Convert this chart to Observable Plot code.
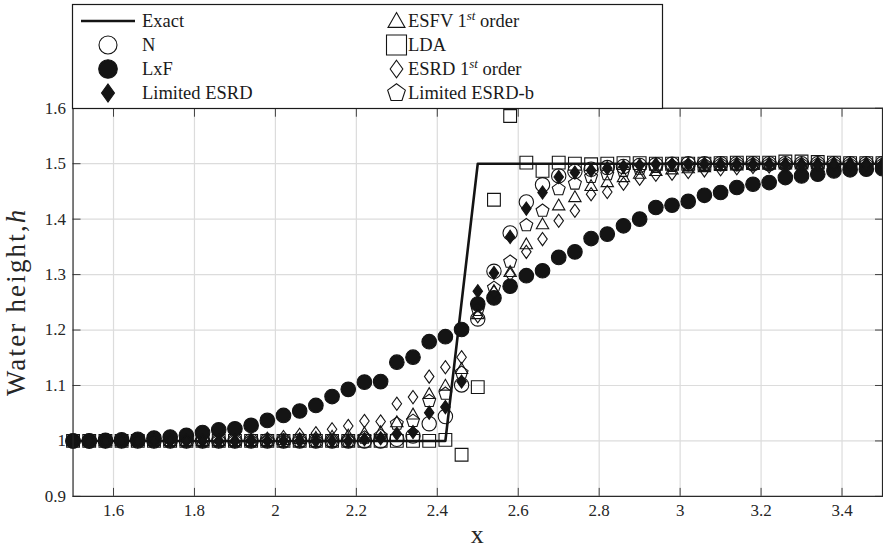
<!DOCTYPE html>
<html><head><meta charset="utf-8">
<script src="https://cdn.jsdelivr.net/npm/d3@7"></script>
<script src="https://cdn.jsdelivr.net/npm/@observablehq/plot@0.6"></script>
<style>
html,body{margin:0;padding:0;background:#fff;overflow:hidden;}
#wrap{position:relative;width:883px;height:550px;overflow:hidden;font-family:"Liberation Serif",serif;}
#wrap text{font-family:"Liberation Serif",serif;}
#legend{position:absolute;left:0;top:0;}
</style></head><body><div id="wrap"></div>
<script>
// ---- data ----
const xs = [1.50,1.54,1.58,1.62,1.66,1.70,1.74,1.78,1.82,1.86,1.90,1.94,1.98,2.02,2.06,2.10,2.14,2.18,2.22,2.26,
            2.30,2.34,2.38,2.42,2.46,2.50,2.54,2.58,2.62,2.66,2.70,2.74,2.78,2.82,2.86,2.90,2.94,2.98,3.02,3.06,
            3.10,3.14,3.18,3.22,3.26,3.30,3.34,3.38,3.42,3.46,3.50];
const exactX = [1.5, 2.42, 2.5, 3.5];
const exactH = [1.0, 1.0, 1.5, 1.5];
const hN = [1,1,1,1,1,1,1,1,1,1,1,1,1,1,1,1,1,1,1,1,
  1.003,1.009,1.031,1.044,1.101,1.220,1.306,1.375,1.431,1.462,1.478,1.486,1.490,1.493,1.495,1.497,1.498,1.499,1.500,1.500,
  1.500,1.500,1.500,1.500,1.500,1.500,1.500,1.500,1.500,1.500,1.500];
const hLxF = [1.000,1.000,1.001,1.002,1.003,1.005,1.007,1.010,1.015,1.020,1.022,1.028,1.037,1.046,1.054,1.064,1.080,1.093,1.106,1.107,
  1.142,1.151,1.179,1.188,1.201,1.247,1.258,1.279,1.298,1.307,1.331,1.341,1.365,1.373,1.388,1.400,1.421,1.425,1.432,1.443,
  1.448,1.457,1.463,1.466,1.475,1.478,1.481,1.487,1.489,1.490,1.491];
const hLimESRD = [1,1,1,1,1,1,1,1,1,1,1,1,1,1,1,1,1,1,1.003,1.005,
  1.013,1.016,1.051,1.061,1.107,1.270,1.303,1.368,1.419,1.448,1.476,1.484,1.488,1.492,1.495,1.497,1.499,1.499,1.499,1.499,
  1.499,1.499,1.499,1.499,1.499,1.499,1.499,1.499,1.499,1.499,1.499];
const hESFV = [1,1,1,1,1,1,1,1,1,1,1,1,1,1.002,1.004,1.006,1.008,1.010,1.014,1.016,
  1.034,1.048,1.085,1.100,1.130,1.229,1.271,1.305,1.355,1.391,1.425,1.440,1.460,1.467,1.476,1.482,1.487,1.490,1.492,1.494,
  1.496,1.497,1.498,1.499,1.499,1.499,1.499,1.499,1.499,1.499,1.499];
const hLDA = [1,1,1,1,1,1,1,1,1,1,1,1,1,1,1,1,1,1,1,1,
  1,1,1,1.002,0.975,1.097,1.435,1.586,1.502,1.487,1.502,1.500,1.499,1.500,1.501,1.501,1.500,1.500,1.500,1.500,
  1.501,1.502,1.502,1.502,1.504,1.504,1.503,1.502,1.501,1.501,1.501];
const hESRD = [1,1,1,1,1,1,1,1,1,1,1,1.002,1.004,1.007,1.011,1.014,1.021,1.027,1.036,1.035,
  1.067,1.079,1.116,1.133,1.151,1.225,1.268,1.300,1.341,1.364,1.397,1.415,1.445,1.449,1.464,1.473,1.480,1.482,1.485,1.488,
  1.490,1.492,1.494,1.495,1.496,1.497,1.498,1.499,1.499,1.499,1.499];
const hLimESRDb = [1,1,1,1,1,1,1,1,1,1,1,1,1,1,1,1,1,1,1.006,1.009,
  1.031,1.036,1.072,1.085,1.123,1.236,1.276,1.323,1.389,1.415,1.454,1.464,1.476,1.481,1.487,1.491,1.494,1.496,1.497,1.498,
  1.499,1.499,1.499,1.499,1.499,1.499,1.499,1.499,1.499,1.499,1.499];
const xTicks = [1.6,1.8,2,2.2,2.4,2.6,2.8,3,3.2,3.4];
const yTicks = [0.9,1,1.1,1.2,1.3,1.4,1.5,1.6];
const seriesNames = ["Exact","N","LxF","Limited ESRD","ESFV 1st order","LDA","ESRD 1st order","Limited ESRD-b"];

// ---- symbols ----
const rad = s => Math.sqrt(s / Math.PI);
const SYM = {
  circle: {draw(c, s){const r = rad(s); c.moveTo(r,0); c.arc(0,0,r,0,2*Math.PI);}},
  square: {draw(c, s){const r = rad(s); c.rect(-r,-r,2*r,2*r);}},
  diamond: {draw(c, s){const r = rad(s), w = r*0.72; c.moveTo(0,-r); c.lineTo(w,0); c.lineTo(0,r); c.lineTo(-w,0); c.closePath();}},
  triangle: {draw(c, s){const r = rad(s); c.moveTo(0,-r); c.lineTo(r,0.75*r); c.lineTo(-r,0.75*r); c.closePath();}},
  pentagon: {draw(c, s){const r = rad(s); for (let i=0;i<5;i++){const a=-Math.PI/2+i*2*Math.PI/5; const px=r*Math.cos(a), py=r*Math.sin(a); if(i===0)c.moveTo(px,py); else c.lineTo(px,py);} c.closePath();}}
};
const INK = "#141414";
const series = [
  {name: seriesNames[1], h: hN, sym: SYM.circle, r: 7.2, fill: "none", lr: 9},
  {name: seriesNames[2], h: hLxF, sym: SYM.circle, r: 7.3, fill: INK, lr: 9.3},
  {name: seriesNames[3], h: hLimESRD, sym: SYM.diamond, r: 6.6, fill: INK, lr: 9},
  {name: seriesNames[4], h: hESFV, sym: SYM.triangle, r: 6.2, fill: "none", lr: 8.5},
  {name: seriesNames[5], h: hLDA, sym: SYM.square, r: 6.4, fill: "none", lr: 10},
  {name: seriesNames[6], h: hESRD, sym: SYM.diamond, r: 6.6, fill: "none", lr: 8.8},
  {name: seriesNames[7], h: hLimESRDb, sym: SYM.pentagon, r: 6.8, fill: "none", lr: 9.3}
];
const exactData = exactX.map((x,i) => ({x, h: exactH[i]}));

const marks = [
  Plot.gridX(xTicks, {stroke: "#dcdcdc", strokeOpacity: 1, strokeWidth: 1.2}),
  Plot.gridY(yTicks, {stroke: "#dcdcdc", strokeOpacity: 1, strokeWidth: 1.2}),
  Plot.axisX(xTicks, {anchor: "bottom", tickSize: 0, tickPadding: 8, tickFormat: d => String(d), fontSize: 17, fill: "#262626", label: null}),
  Plot.axisX(xTicks, {anchor: "bottom", tickSize: -8, tickFormat: () => "", stroke: "#404040", label: null}),
  Plot.axisX(xTicks, {anchor: "top", tickSize: -8, tickFormat: () => "", stroke: "#404040", label: null}),
  Plot.axisY(yTicks, {anchor: "left", tickSize: 0, tickPadding: 7, tickFormat: d => String(d), fontSize: 17, fill: "#262626", label: null}),
  Plot.axisY(yTicks, {anchor: "left", tickSize: -8, tickFormat: () => "", stroke: "#404040", label: null}),
  Plot.axisY(yTicks, {anchor: "right", tickSize: -8, tickFormat: () => "", stroke: "#404040", label: null}),
  Plot.line(exactData, {x: "x", y: "h", stroke: INK, strokeWidth: 2.6}),
  ...series.map(s => Plot.dot(xs.map((x,i) => ({x, h: s.h[i]})), {
    x: "x", y: "h", symbol: s.sym, r: s.r, fill: s.fill, stroke: INK, strokeWidth: 1.1
  })),
  Plot.frame({stroke: "#262626", strokeWidth: 1.2})
];

const chart = Plot.plot({
  width: 885, height: 550,
  marginLeft: 72.7, marginRight: 1, marginTop: 108, marginBottom: 53,
  style: {fontFamily: "'Liberation Serif', serif", fontSize: "17px", background: "#fff", overflow: "visible"},
  x: {domain: [1.5, 3.5], label: null},
  y: {domain: [0.9, 1.6], label: null},
  marks
});
document.getElementById("wrap").appendChild(chart);

// axis titles
const svg = d3.select(chart);
const xs0 = chart.scale("x"), ys0 = chart.scale("y");
const xMid = (xs0.apply(1.5) + xs0.apply(3.5)) / 2;
const yMid = (ys0.apply(0.9) + ys0.apply(1.6)) / 2;
svg.append("text").attr("x", xMid).attr("y", 544).attr("text-anchor", "middle")
  .attr("font-size", 26).attr("fill", "#262626").text("x");
const yl = svg.append("text").attr("transform", `translate(25,${yMid}) rotate(-90)`).attr("text-anchor", "middle")
  .attr("font-size", 27).attr("letter-spacing", 2.2).attr("fill", "#262626");
yl.append("tspan").text("Water height,");
yl.append("tspan").attr("font-style", "italic").text("h");

// legend
const L = d3.select("#wrap").append("svg").attr("id", "legend").attr("width", 883).attr("height", 112);
L.append("rect").attr("x", 72.5).attr("y", 4.5).attr("width", 590).attr("height", 104)
  .attr("fill", "#fff").attr("stroke", "#1a1a1a").attr("stroke-width", 1.2);
const rowsY = [21, 45, 69, 93];
const entries = [{name: seriesNames[0], line: true}, ...series];
entries.forEach((e, i) => {
  const col = i < 4 ? 0 : 1, row = i % 4;
  const cx = col === 0 ? 108 : 396.5, tx = col === 0 ? 142 : 408;
  const cy = rowsY[row];
  if (e.line) {
    L.append("line").attr("x1", 81).attr("x2", 135).attr("y1", cy).attr("y2", cy).attr("stroke", INK).attr("stroke-width", 2.6);
  } else {
    L.append("path").attr("transform", `translate(${cx},${cy})`)
      .attr("d", d3.symbol().type(e.sym).size(Math.PI * e.lr * e.lr)())
      .attr("fill", e.fill).attr("stroke", INK).attr("stroke-width", 1.1);
  }
  const t = L.append("text").attr("x", tx).attr("y", cy + 6)
    .attr("font-size", 18.5).attr("fill", "#1a1a1a");
  const m = e.name.match(/^(.*) 1st (.*)$/);
  if (m) {
    t.append("tspan").text(m[1] + " 1");
    t.append("tspan").attr("dy", -7).attr("font-size", 13).attr("font-style", "italic").text("st");
    t.append("tspan").attr("dy", 7).text(" " + m[2]);
  } else t.text(e.name);
});
</script></body></html>
